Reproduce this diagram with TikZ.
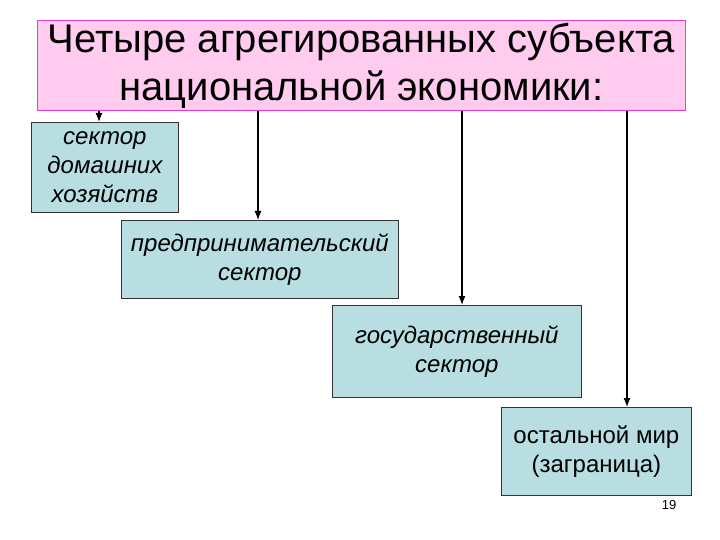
\documentclass[tikz,border=0pt]{standalone}
\usepackage{fontspec}
\usetikzlibrary{arrows.meta}
\setmainfont{Liberation Sans}
\begin{document}
\begin{tikzpicture}[x=1pt,y=-1pt,
  sbox/.style={draw=black!80,line width=0.8pt,fill={rgb,255:red,184;green,222;blue,226},align=center,anchor=north west,inner sep=0pt,font=\fontsize{24}{29}\selectfont\itshape},
  arr/.style={-{Latex[length=9pt,width=7pt]},line width=1.2pt}]
\useasboundingbox (0,0) rectangle (720,540);
\node[draw={rgb,255:red,230;green,60;blue,200},line width=0.8pt,fill={rgb,255:red,255;green,204;blue,240},minimum width=648pt,minimum height=90pt,anchor=north west,inner sep=0pt,align=center,font=\fontsize{40}{48}\selectfont] (t) at (37,20) {Четыре агрегированных субъекта\\национальной экономики:};
\node[sbox,minimum width=147pt,minimum height=90pt] (b1) at (31,122) {сектор\\домашних\\хозяйств};
\node[sbox,minimum width=277pt,minimum height=78pt] (b2) at (121,220) {предпринимательский\\сектор};
\node[sbox,minimum width=249pt,minimum height=92pt] (b3) at (332,305) {государственный\\сектор};
\node[sbox,font=\fontsize{24}{29}\selectfont,minimum width=190pt,minimum height=88pt] (b4) at (501,407) {остальной мир\\(заграница)};
\draw[arr] (t.south -| 99,0) -- (b1.north -| 99,0);
\draw[arr] (t.south -| 258,0) -- (b2.north -| 258,0);
\draw[arr] (t.south -| 462,0) -- (b3.north -| 462,0);
\draw[arr] (t.south -| 627,0) -- (b4.north -| 627,0);
\node[font=\fontsize{13}{15}\selectfont] (pn) at (669,505) {19};
\end{tikzpicture}
\end{document}
